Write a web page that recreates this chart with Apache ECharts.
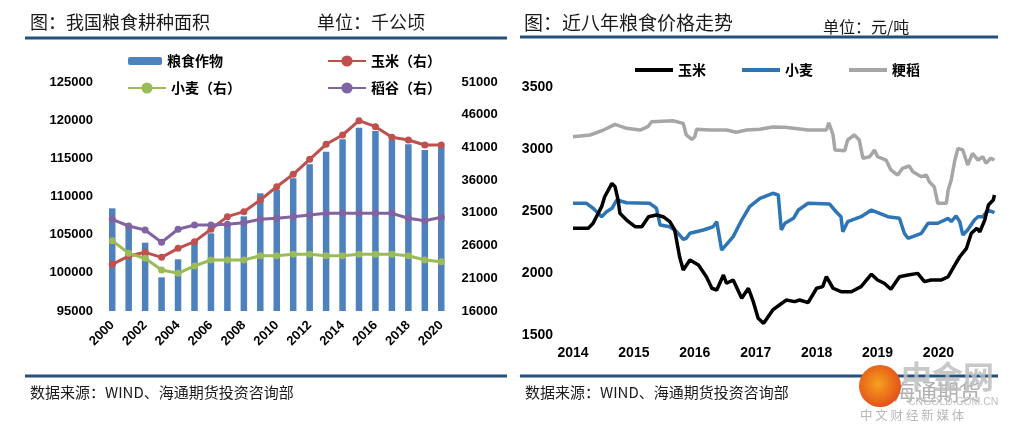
<!DOCTYPE html>
<html><head><meta charset="utf-8">
<script src="https://cdn.jsdelivr.net/npm/echarts@6/dist/echarts.min.js"></script>
<style>html,body{margin:0;padding:0;background:#fff}#c{width:1014px;height:433px}</style>
</head><body><div id="c"></div>
<script>
// ---- Left chart data (千公顷) ----
const years = ['2000','2001','2002','2003','2004','2005','2006','2007','2008','2009','2010','2011','2012','2013','2014','2015','2016','2017','2018','2019','2020'];
const grainArea = [108450,106080,103950,99410,101770,104000,105180,106500,107400,110420,110850,112390,114220,115870,117490,119010,118580,117400,116840,116090,116530];
const cornArea  = [23140,24400,24970,24200,25580,26600,28490,30420,31180,32960,35000,36890,39180,41480,42900,45090,44170,42550,42140,41370,41370];
const wheatArea = [26750,24820,24050,22270,21760,22880,23790,23790,23790,24450,24450,24660,24660,24450,24450,24660,24660,24660,24450,23790,23540];
const riceArea  = [30010,28990,28380,26500,28490,29140,29140,29250,29500,30010,30170,30420,30670,30930,30930,30930,30930,30930,30170,29800,30320];
const leftTicks = {min:95000, max:125000, step:5000};
const rightTicks = {min:16000, max:51000, step:5000};

// ---- Right chart data (元/吨), time in decimal years ----
const cornT = [2014.0,2014.25,2014.33,2014.47,2014.52,2014.64,2014.69,2014.74,2014.77,2014.88,2015.02,2015.13,2015.24,2015.37,2015.48,2015.59,2015.67,2015.75,2015.81,2015.92,2016.06,2016.19,2016.28,2016.36,2016.47,2016.52,2016.63,2016.77,2016.88,2016.96,2017.04,2017.13,2017.28,2017.39,2017.5,2017.64,2017.72,2017.86,2018.0,2018.1,2018.16,2018.27,2018.4,2018.57,2018.73,2018.9,2019.0,2019.11,2019.22,2019.36,2019.5,2019.66,2019.77,2019.88,2020.05,2020.16,2020.27,2020.35,2020.46,2020.54,2020.63,2020.68,2020.76,2020.82,2020.9,2020.92];
const cornP = [2360,2360,2401,2535,2615,2723,2696,2589,2481,2427,2373,2373,2454,2468,2454,2414,2347,2131,2024,2105,2065,1970,1877,1863,1984,1917,1944,1796,1877,1769,1635,1594,1702,1742,1782,1769,1782,1761,1877,1890,1970,1877,1849,1849,1890,1990,1944,1917,1869,1970,1984,1997,1930,1944,1944,1970,2065,2131,2199,2320,2360,2333,2427,2548,2589,2629];
const wheatT = [2014.0,2014.22,2014.33,2014.47,2014.55,2014.64,2014.72,2014.88,2015.26,2015.37,2015.43,2015.59,2015.7,2015.81,2015.86,2015.92,2016.14,2016.3,2016.36,2016.44,2016.63,2016.77,2016.9,2017.07,2017.28,2017.37,2017.42,2017.48,2017.62,2017.7,2017.86,2018.21,2018.32,2018.4,2018.43,2018.51,2018.73,2018.9,2019.17,2019.36,2019.44,2019.5,2019.72,2019.83,2019.99,2020.16,2020.21,2020.29,2020.35,2020.4,2020.48,2020.59,2020.65,2020.73,2020.81,2020.92];
const wheatP = [2562,2562,2522,2454,2494,2522,2589,2567,2562,2522,2387,2373,2333,2272,2280,2320,2347,2373,2414,2185,2293,2427,2535,2602,2643,2629,2347,2401,2441,2508,2562,2557,2494,2454,2333,2414,2454,2508,2454,2441,2320,2280,2320,2401,2401,2441,2414,2460,2414,2307,2347,2427,2454,2454,2508,2486];
const riceT = [2014.0,2014.28,2014.5,2014.69,2014.88,2015.1,2015.23,2015.29,2015.64,2015.81,2015.86,2015.95,2016.0,2016.03,2016.25,2016.52,2016.68,2016.85,2017.07,2017.28,2017.48,2017.86,2018.16,2018.2,2018.27,2018.3,2018.46,2018.51,2018.62,2018.7,2018.76,2018.87,2018.95,2019.0,2019.14,2019.22,2019.33,2019.41,2019.52,2019.58,2019.72,2019.8,2019.85,2019.93,2019.99,2020.13,2020.16,2020.21,2020.27,2020.32,2020.4,2020.48,2020.56,2020.65,2020.73,2020.78,2020.86,2020.92];
const riceP = [3099,3113,3153,3199,3167,3153,3180,3220,3228,3207,3113,3078,3099,3159,3153,3153,3135,3153,3159,3178,3175,3153,3153,3212,3113,2992,2986,3073,3113,3073,2925,2938,2992,2938,2911,2831,2790,2844,2863,2817,2777,2790,2736,2696,2562,2562,2669,2750,2911,3005,2992,2871,2965,2911,2938,2885,2925,2911];
const priceTicks = {min:1500, max:3500, step:500};
const yearRange = {min:2014, max:2020.95};

const zip = (t, v) => t.map((x, i) => [x, v[i]]);

const chart = echarts.init(document.getElementById('c'), null, {renderer:'canvas'});
const NUM = "'Liberation Sans', Arial, sans-serif";
const CJK = "'Noto Sans CJK SC', sans-serif";
const RULE = '#24507e';
const plain = (v) => String(v);
const lab = (sz) => ({color:'#000', fontWeight:'bold', fontFamily:NUM, fontSize:sz, formatter:plain});
const legTxt = {color:'#000', fontWeight:'bold', fontFamily:CJK, fontSize:14};

function txt(x, y, s, size, fill, weight, family) {
  return {type:'text', x:x, y:y, silent:true,
    style:{text:s, fontSize:size, fontFamily:family || CJK, fontWeight:weight || 'normal',
           fill:fill || '#1a1a1a', verticalAlign:'middle', align:'left'}};
}
function rule(x1, x2, y) {
  return {type:'rect', silent:true, shape:{x:x1, y:y-1.5, width:x2-x1, height:3}, style:{fill:RULE}};
}

const option = {
  animation:false,
  backgroundColor:'#fff',
  grid:[
    {left:104, top:82, width:345.5, height:229},
    {left:573, top:87, width:423.3, height:248}
  ],
  legend:[
    {left:128, top:54, padding:0, itemWidth:34, itemHeight:8, textStyle:legTxt, data:['粮食作物']},
    {left:327, top:54, padding:0, itemWidth:38, itemHeight:14, textStyle:legTxt, data:['玉米（右）']},
    {left:127, top:81, padding:0, itemWidth:38, itemHeight:14, textStyle:legTxt, data:['小麦（右）']},
    {left:327, top:81, padding:0, itemWidth:38, itemHeight:14, textStyle:legTxt, data:['稻谷（右）']},
    {left:635, top:63, padding:0, itemWidth:38, itemHeight:4, itemGap:36, icon:'rect', textStyle:legTxt, data:['玉米','小麦','粳稻']}
  ],
  xAxis:[
    {type:'category', gridIndex:0, data:years, boundaryGap:true,
     axisLine:{show:false}, axisTick:{show:false}, splitLine:{show:false},
     axisLabel:Object.assign(lab(13), {interval:1, rotate:45, margin:12})},
    {type:'value', gridIndex:1, min:yearRange.min, max:yearRange.max, interval:1,
     axisLine:{show:false}, axisTick:{show:false}, splitLine:{show:false},
     axisLabel:Object.assign(lab(14), {margin:11, showMaxLabel:false,
       formatter:(v) => (Math.abs(v - Math.round(v)) < 1e-6 ? String(Math.round(v)) : '')})}
  ],
  yAxis:[
    {type:'value', gridIndex:0, min:leftTicks.min, max:leftTicks.max, interval:leftTicks.step,
     axisLine:{show:false}, axisTick:{show:false}, splitLine:{show:false},
     axisLabel:Object.assign(lab(13), {margin:11})},
    {type:'value', gridIndex:0, position:'right', min:rightTicks.min, max:rightTicks.max, interval:rightTicks.step,
     axisLine:{show:false}, axisTick:{show:false}, splitLine:{show:false},
     axisLabel:Object.assign(lab(13), {margin:12})},
    {type:'value', gridIndex:1, min:priceTicks.min, max:priceTicks.max, interval:priceTicks.step,
     axisLine:{show:false}, axisTick:{show:false}, splitLine:{show:false},
     axisLabel:Object.assign(lab(14), {margin:20})}
  ],
  series:[
    {name:'粮食作物', type:'bar', xAxisIndex:0, yAxisIndex:0, data:grainArea, barWidth:6.5,
     itemStyle:{color:'#4f81bd'}},
    {name:'玉米（右）', type:'line', xAxisIndex:0, yAxisIndex:1, data:cornArea, symbol:'circle', symbolSize:7,
     lineStyle:{width:3, color:'#c0504d'}, itemStyle:{color:'#c0504d'}},
    {name:'小麦（右）', type:'line', xAxisIndex:0, yAxisIndex:1, data:wheatArea, symbol:'circle', symbolSize:7,
     lineStyle:{width:3, color:'#9bbb59'}, itemStyle:{color:'#9bbb59'}},
    {name:'稻谷（右）', type:'line', xAxisIndex:0, yAxisIndex:1, data:riceArea, symbol:'circle', symbolSize:7,
     lineStyle:{width:3, color:'#8064a2'}, itemStyle:{color:'#8064a2'}},
    {name:'粳稻', type:'line', xAxisIndex:1, yAxisIndex:2, data:zip(riceT, riceP), showSymbol:false, symbol:'none',
     lineStyle:{width:3.5, color:'#a6a6a6'}, itemStyle:{color:'#a6a6a6'}},
    {name:'小麦', type:'line', xAxisIndex:1, yAxisIndex:2, data:zip(wheatT, wheatP), showSymbol:false, symbol:'none',
     lineStyle:{width:3.5, color:'#2e75b6'}, itemStyle:{color:'#2e75b6'}},
    {name:'玉米', type:'line', xAxisIndex:1, yAxisIndex:2, data:zip(cornT, cornP), showSymbol:false, symbol:'none',
     lineStyle:{width:3.5, color:'#000000'}, itemStyle:{color:'#000000'}}
  ],
  graphic:[
    txt(30, 22, '图：我国粮食耕种面积', 18),
    txt(317, 22, '单位：千公顷', 18),
    rule(25, 507, 38),
    rule(25, 507, 376),
    txt(30, 392, '数据来源：WIND、海通期货投资咨询部', 15),
    txt(524, 23, '图：近八年粮食价格走势', 19),
    txt(823, 27, '单位：元/吨', 16),
    rule(520, 998, 37),
    rule(520, 998, 376),
    txt(525, 392, '数据来源：WIND、海通期货投资咨询部', 15),
    // watermark
    txt(893, 392, '海通期货', 22, '#b0b0b0'),
    {type:'circle', silent:true, shape:{cx:880, cy:386, r:21},
     style:{fill:new echarts.graphic.RadialGradient(0.45,0.45,0.7,[{offset:0,color:'#f6a21c'},{offset:1,color:'#df3d1a'}])}},
    txt(901, 376, '中金网', 31, 'rgba(190,190,190,0.85)', 'bold'),
    txt(908, 402, 'CNGOLD.COM.CN', 10.5, '#c0c0c0', 'normal', NUM),
    txt(860, 415, '中 文 财 经 新 媒 体', 12.5, '#b8b8b8')
  ]
};
chart.setOption(option);
</script></body></html>
